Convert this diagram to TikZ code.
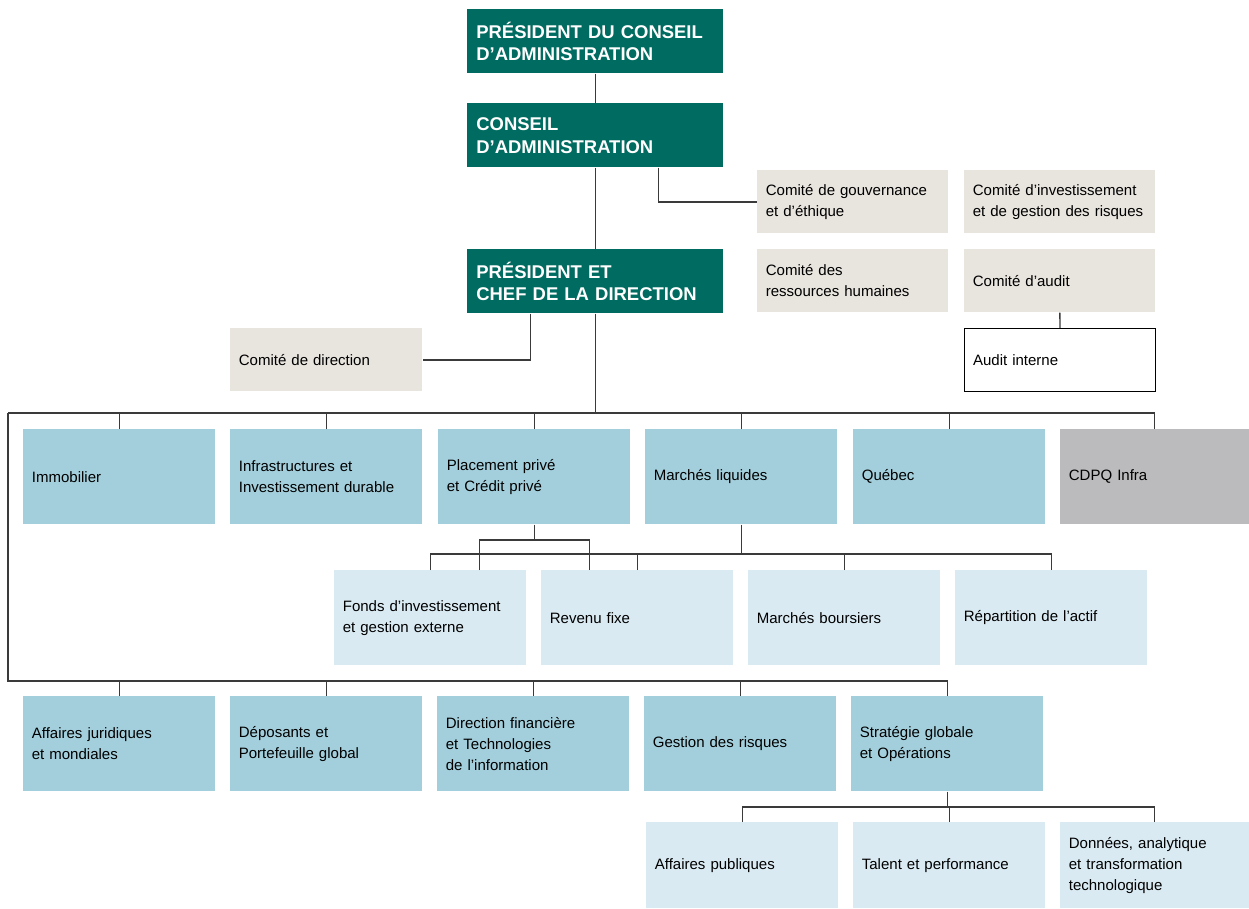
\documentclass[tikz,border=0pt]{standalone}
\usepackage{fontspec}
\setmainfont{Liberation Sans}
\definecolor{cgreen}{HTML}{006B60}
\definecolor{cbeige}{HTML}{E8E4DE}
\definecolor{cblue}{HTML}{A3CFDC}
\definecolor{clight}{HTML}{DAEAF2}
\definecolor{cgray}{HTML}{BBBBBD}
\definecolor{cline}{HTML}{3A3A3A}
\tikzset{
  base/.style={anchor=north west, inner ysep=0pt, inner xsep=0.17cm, align=left,
    font=\fontsize{8.55}{11.9}\selectfont, text=black},
  head/.style={base, fill=cgreen, text=white, inner xsep=0.18cm, text width=4.76cm,
    minimum height=1.28cm, font=\fontsize{10.5}{13}\selectfont\bfseries},
  comite/.style={base, fill=cbeige, text width=3.48cm, minimum height=1.26cm},
  dept/.style={base, fill=cblue, text width=3.5cm, minimum height=1.9cm},
  sub/.style={base, fill=clight, text width=3.5cm, minimum height=1.9cm},
  sublow/.style={base, fill=clight, text width=3.5cm, minimum height=1.72cm},
  conn/.style={draw=cline, line width=0.75pt},
}
\begin{document}
\begin{tikzpicture}[x=0.02cm, y=-0.02cm]
\useasboundingbox (0,0) rectangle (1249,909);
% top
\node[head] (pca) at (467,9) {PRÉSIDENT DU CONSEIL\\D’ADMINISTRATION};
\node[head] (ca) at (467,103) {CONSEIL\\D’ADMINISTRATION};
\node[head] (pcd) at (467,249) {PRÉSIDENT ET\\CHEF DE LA DIRECTION};
% committees
\node[comite] (cgov) at (757,170) {Comité de gouvernance\\et d’éthique};
\node[comite] (cinv) at (964,170) {Comité d’investissement\\et de gestion des risques};
\node[comite] (crh) at (757,249) {Comité des\\ressources humaines};
\node[comite] (caud) at (964,249) {Comité d’audit};
\node[base, fill=white, draw=black, line width=0.6pt, text width=3.48cm, minimum height=1.26cm] (audint) at (964,328) {Audit interne};
\node[comite, text width=3.5cm] (cdir) at (230,328) {Comité de direction};
% row 1
\node[dept] (immo) at (23,429) {Immobilier};
\node[dept] (infra) at (230,429) {Infrastructures et\\Investissement durable};
\node[dept] (pp) at (438,429) {Placement privé\\et Crédit privé};
\node[dept] (ml) at (645,429) {Marchés liquides};
\node[dept] (qc) at (853,429) {Québec};
\node[dept, fill=cgray, text width=3.44cm] (cdpq) at (1060,429) {CDPQ Infra};
% row 2
\node[sub] (fonds) at (334,570) {Fonds d’investissement\\et gestion externe};
\node[sub] (rf) at (541,570) {Revenu fixe};
\node[sub] (mb) at (748,570) {Marchés boursiers};
\node[sub] (rep) at (955,570) {Répartition de l’actif};
% row 3
\node[dept] (aj) at (23,696) {Affaires juridiques\\et mondiales};
\node[dept] (dep) at (230,696) {Déposants et\\Portefeuille global};
\node[dept] (dft) at (437,696) {Direction financière\\et Technologies\\de l’information};
\node[dept] (gr) at (644,696) {Gestion des risques};
\node[dept] (strat) at (851,696) {Stratégie globale\\et Opérations};
% row 4
\node[sublow] (ap) at (646,822) {Affaires publiques};
\node[sublow] (tp) at (853,822) {Talent et performance};
\node[sublow, text width=3.44cm] (dat) at (1060,822) {Données, analytique\\et transformation\\technologique};
% helper coordinates
\coordinate (bus) at (8,413);
\coordinate (bus3) at (8,681);
\coordinate (ppbus) at (0,540);
\coordinate (mlbus) at (0,554);
\coordinate (bus4) at (0,807);
\coordinate (f1) at ([xshift=0.98cm]fonds.north);
\coordinate (r1) at ([xshift=-0.96cm]rf.north);
\coordinate (cag) at ([xshift=1.26cm]ca.south);
\coordinate (pcdd) at ([xshift=-1.3cm]pcd.south);
% connectors
\draw[conn] (pca.south) -- (ca.north);
\draw[conn] (ca.south) -- (pcd.north);
\draw[conn] (cag) |- (cgov.west);
\draw[conn] (pcdd) |- (cdir.east);
\draw[conn] (caud.south) -- (audint.north);
\draw[conn] (pcd.south) -- (pcd.south |- bus);
\draw[conn] (bus) -- (cdpq.north |- bus) -- (cdpq.north);
\foreach \n in {immo,infra,pp,ml,qc} \draw[conn] (\n.north) -- (\n.north |- bus);
\draw[conn] (bus) -- (bus3) -- (strat.north |- bus3) -- (strat.north);
\foreach \n in {aj,dep,dft,gr} \draw[conn] (\n.north) -- (\n.north |- bus3);
\draw[conn] (pp.south) -- (pp.south |- ppbus);
\draw[conn] (f1) |- (r1 |- ppbus) -- (r1);
\draw[conn] (ml.south) -- (ml.south |- mlbus);
\draw[conn] (fonds.north) |- (rep.north |- mlbus) -- (rep.north);
\foreach \n in {rf,mb} \draw[conn] (\n.north) -- (\n.north |- mlbus);
\draw[conn] (strat.south) -- (strat.south |- bus4);
\draw[conn] (ap.north) |- (dat.north |- bus4) -- (dat.north);
\draw[conn] (tp.north) -- (tp.north |- bus4);
\end{tikzpicture}
\end{document}
